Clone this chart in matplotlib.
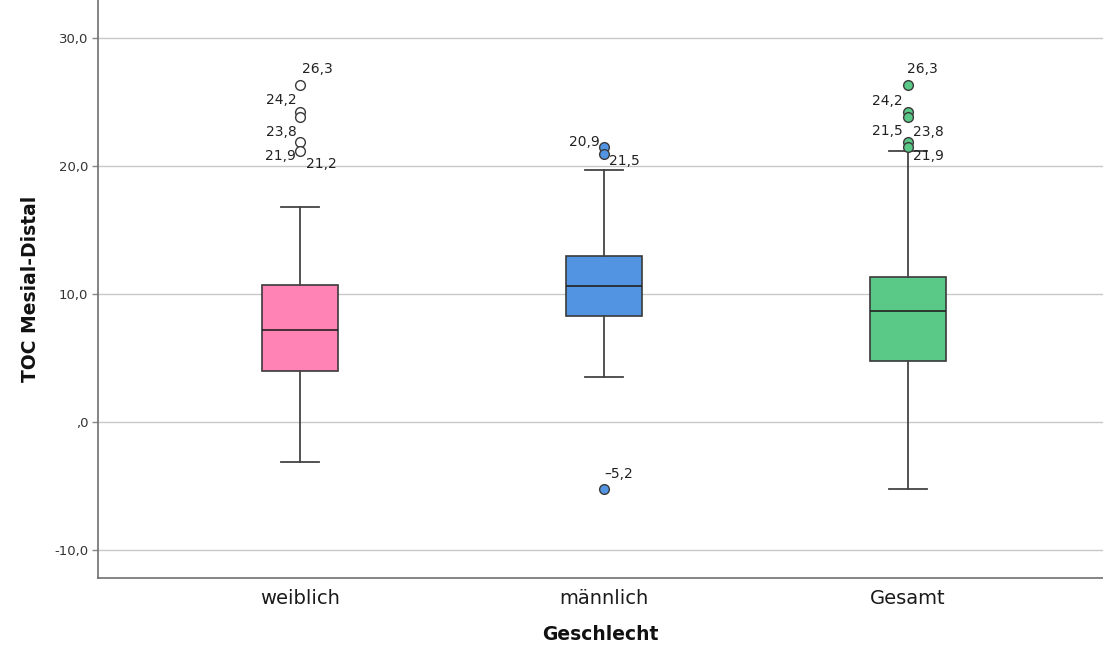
import matplotlib
matplotlib.use("Agg")
import matplotlib.pyplot as plt
from matplotlib.ticker import FuncFormatter

# Box plot statistics per group
categories = ["weiblich", "männlich", "Gesamt"]
medians = [7.2, 10.6, 8.7]
q1s = [4.0, 8.3, 4.8]
q3s = [10.7, 13.0, 11.3]
whisker_low = [-3.1, 3.5, -5.2]
whisker_high = [16.8, 19.7, 21.2]

# Outliers per group with their value labels
outliers_w = [26.3, 24.2, 23.8, 21.9, 21.2]
outliers_m = [21.5, 20.9, -5.2]
outliers_g = [26.3, 24.2, 23.8, 21.9, 21.5]
outlier_labels_w = ["26,3", "24,2", "23,8", "21,9", "21,2"]
outlier_labels_m = ["21,5", "20,9", "\u20135,2"]
outlier_labels_g = ["26,3", "24,2", "23,8", "21,9", "21,5"]

yticks = [-10, 0, 10, 20, 30]

box_colors = ["#FF83B4", "#5294E2", "#5AC887"]
flier_faces = ["white", "#5294E2", "#5AC887"]
edge = "#3a3a3a"

plt.rcParams["font.family"] = ["DejaVu Sans"]

fig = plt.figure(figsize=(11.03, 6.55), dpi=100)
ax = fig.add_axes([98 / 1103, 77 / 655, 1 - 98 / 1103, 1 - 77 / 655])

all_outliers = [outliers_w, outliers_m, outliers_g]
stats = []
for i, c in enumerate(categories):
    stats.append(dict(label=c, med=medians[i], q1=q1s[i], q3=q3s[i],
                      whislo=whisker_low[i], whishi=whisker_high[i],
                      fliers=all_outliers[i]))

ax.set_axisbelow(True)
ax.yaxis.grid(True, color="#c8c8c8", linewidth=1.0)

for i, s in enumerate(stats):
    ax.bxp([s], positions=[i], widths=0.25, patch_artist=True,
           showfliers=True,
           boxprops=dict(facecolor=box_colors[i], edgecolor=edge, linewidth=1.2),
           medianprops=dict(color="#222222", linewidth=1.2),
           whiskerprops=dict(color="#444444", linewidth=1.3),
           capprops=dict(color="#444444", linewidth=1.3),
           capwidths=0.125,
           flierprops=dict(marker="o", markersize=7, markerfacecolor=flier_faces[i],
                           markeredgecolor=edge, markeredgewidth=1.0, linestyle="none"))

# Outlier labels (offsets in pixels)
label_offsets = [
    [(17, 16), (-19, 12), (-19, -15), (-19, -14), (21, -13)],
    [(20, -14), (-20, 12), (15, 15)],
    [(14, 16), (-21, 11), (20, -15), (20, -14), (-21, 16)],
]
all_labels = [outlier_labels_w, outlier_labels_m, outlier_labels_g]
for i in range(3):
    for val, lab, off in zip(all_outliers[i], all_labels[i], label_offsets[i]):
        ax.annotate(lab, (i, val), xytext=off, textcoords="offset pixels",
                    ha="center", va="center", fontsize=10, color="#222222")


def fmt(v, pos):
    s = ("%.1f" % v).replace(".", ",")
    return ",0" if v == 0 else s


ax.set_xlim(-0.664, 2.641)
ax.set_ylim(-12.19, 32.97)
ax.set_yticks(yticks)
ax.yaxis.set_major_formatter(FuncFormatter(fmt))
ax.set_xticks(range(3))
ax.set_xticklabels(categories, fontsize=14, color="#1a1a1a")
ax.tick_params(axis="x", length=0, pad=8)
ax.tick_params(axis="y", length=4, width=1, color="#888888", labelsize=9.5,
               labelcolor="#333333", pad=3)

for side in ["top", "right"]:
    ax.spines[side].set_visible(False)
for side in ["left", "bottom"]:
    ax.spines[side].set_color("#707070")
    ax.spines[side].set_linewidth(1.2)

ax.set_xlabel("Geschlecht", fontsize=13.5, fontweight="bold", color="#111111", labelpad=12)
ax.set_ylabel("TOC Mesial-Distal", fontsize=13.5, fontweight="bold", color="#111111", labelpad=10)

fig.savefig("out.png", dpi=100)
